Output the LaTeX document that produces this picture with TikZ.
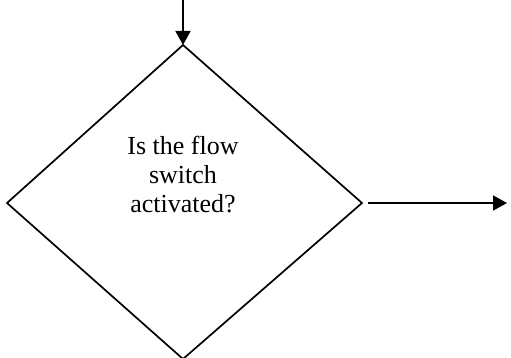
\documentclass[tikz,border=0pt]{standalone}
\usepackage{fontspec}
\setmainfont{Liberation Serif}
\usetikzlibrary{arrows.meta}
\tikzset{
  flowline/.style={line width=1.7pt, draw=black},
  arrowline/.style={flowline, -{Triangle[length=14pt,width=15pt]}},
  label/.style={align=center, font=\fontsize{26}{29}\selectfont, inner sep=0pt}
}
\begin{document}
\begin{tikzpicture}[x=1pt,y=-1pt]
\useasboundingbox (0,0) rectangle (511,358);
\coordinate (start) at (183,0);
\coordinate (top) at (183,45);
\coordinate (left) at (7,203);
\coordinate (right) at (362,203);
\coordinate (bottom) at (183,359);
\coordinate (outstart) at (368,203);
\coordinate (outend) at (507,203);
\draw[flowline, line join=miter] (top) -- (right) -- (bottom) -- (left) -- cycle;
\node[label] (q) at (183,175) {Is the flow\\switch\\activated?};
\draw[arrowline] (start) -- (top);
\draw[arrowline] (outstart) -- (outend);
\end{tikzpicture}
\end{document}
